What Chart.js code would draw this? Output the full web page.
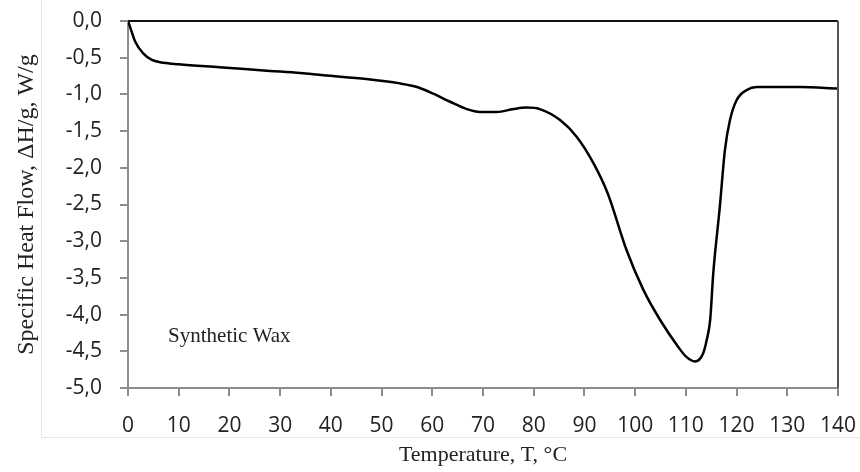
<!DOCTYPE html>
<html>
<head>
<meta charset="utf-8">
<script src="https://cdn.jsdelivr.net/npm/chart.js@4/dist/chart.umd.min.js"></script>
<style>
    html, body { margin: 0; padding: 0; background: #fff; }
</style>
</head>
<body>
<canvas id="chart" width="860" height="472"></canvas>
<script>
// DSC curve
const temps = [0, 0.5, 1.4, 3.0, 4.7, 7, 10, 18, 28, 34, 38.5, 47, 53.6, 57, 60.2, 63.5, 66.8, 69.4,
    72.7, 76, 78.6, 81.2, 85.2, 88.5, 91.8, 94.6, 98.3, 101.6, 104.9, 108.5, 110, 111.8, 113.4,
    114.1, 114.8, 115.4, 116.7, 117.7, 118.7, 120, 122, 124, 132.5, 140];
const heatFlow = [0, -0.1, -0.28, -0.44, -0.53, -0.57, -0.59, -0.63, -0.68, -0.71, -0.74, -0.79, -0.85, -0.90, -0.99, -1.10, -1.20, -1.24,
    -1.24, -1.20, -1.18, -1.20, -1.35, -1.58, -1.94, -2.35, -3.12, -3.66, -4.07, -4.44, -4.57, -4.64, -4.53,
    -4.35, -4.07, -3.44, -2.53, -1.76, -1.35, -1.08, -0.94, -0.90, -0.90, -0.92];

const xMin = 0, xMax = 140, xStep = 10;
const yMin = -5, yMax = 0, yStep = 0.5;

const seriesLabel = "Synthetic Wax";
const labelAt = { x: 7.9, y: -4.3 };

const xTitle = "Temperature, T, \u00B0C";
const yTitle = "Specific Heat Flow, \u0394H/g, W/g";

const tickFont = { family: "Open Sans", size: 21 };
const xTitleFont = { family: "Liberation Serif", size: 22 };
const yTitleFont = { family: "Liberation Serif", size: 24 };
const labelFont = { family: "Liberation Serif", size: 21 };

var points = [];
for (let i = 0; i < temps.length; i++) {
    points.push({ x: temps[i], y: heatFlow[i] });
}

// top/right frame of the plot area, the faint outer border and the text label
const framePlugin = {
    id: "frame",
    afterDraw(chart) {
        const ctx = chart.ctx;
        const a = chart.chartArea;
        ctx.save();
        ctx.strokeStyle = "#e6e6e6";
        ctx.lineWidth = 1;
        ctx.beginPath();
        ctx.moveTo(41.5, 0);
        ctx.lineTo(41.5, 437.5);
        ctx.lineTo(860, 437.5);
        ctx.stroke();

        ctx.lineWidth = 2;
        ctx.strokeStyle = "#111";
        ctx.beginPath();
        ctx.moveTo(a.left, a.top);
        ctx.lineTo(a.right, a.top);
        ctx.stroke();
        ctx.strokeStyle = "#555";
        ctx.beginPath();
        ctx.moveTo(a.right, a.top);
        ctx.lineTo(a.right, a.bottom);
        ctx.stroke();

        const xs = chart.scales.x;
        const ys = chart.scales.y;
        ctx.fillStyle = "#222";
        ctx.font = labelFont.size + "px '" + labelFont.family + "'";
        ctx.textAlign = "left";
        ctx.textBaseline = "middle";
        ctx.fillText(seriesLabel, xs.getPixelForValue(labelAt.x), ys.getPixelForValue(labelAt.y));
        ctx.restore();
    },
};

const ctx = document.getElementById("chart");
const chart = new Chart(ctx, {
    type: "line",
    data: {
        datasets: [
            {
                label: seriesLabel,
                data: points,
                borderColor: "#000",
                borderWidth: 2.5,
                pointRadius: 0,
                cubicInterpolationMode: "monotone",
                fill: false,
            },
        ],
    },
    options: {
        responsive: false,
        animation: false,
        layout: {
            padding: { left: 0, right: 22, top: 21, bottom: 4 },
        },
        plugins: {
            legend: { display: false },
            tooltip: { enabled: false },
        },
        scales: {
            x: {
                type: "linear",
                min: xMin,
                max: xMax,
                afterFit: (scale) => {
                    scale.height = 80;
                    scale.paddingLeft = 0;
                    scale.paddingRight = 0;
                },
                ticks: {
                    stepSize: xStep,
                    color: "#222",
                    font: tickFont,
                    padding: 17,
                    maxRotation: 0,
                },
                grid: {
                    drawOnChartArea: false,
                    drawTicks: true,
                    tickLength: 8,
                    color: "#8c8c8c",
                    lineWidth: 2,
                },
                border: { display: true, color: "#8c8c8c", width: 2 },
                title: {
                    display: true,
                    text: xTitle,
                    color: "#222",
                    font: xTitleFont,
                    padding: { top: 0, bottom: 0 },
                },
            },
            y: {
                type: "linear",
                min: yMin,
                max: yMax,
                afterFit: (scale) => {
                    scale.width = 128;
                    scale.paddingTop = 0;
                    scale.paddingBottom = 0;
                },
                ticks: {
                    stepSize: yStep,
                    color: "#222",
                    font: tickFont,
                    padding: 18,
                    callback: (v) => v.toFixed(1).replace(".", ","),
                },
                grid: {
                    drawOnChartArea: false,
                    drawTicks: true,
                    tickLength: 8,
                    color: "#8c8c8c",
                    lineWidth: 2,
                },
                border: { display: true, color: "#8c8c8c", width: 2 },
                title: {
                    display: true,
                    text: yTitle,
                    color: "#222",
                    font: yTitleFont,
                    padding: { top: 12, bottom: 0 },
                },
            },
        },
    },
    plugins: [framePlugin],
});
</script>
</body>
</html>
